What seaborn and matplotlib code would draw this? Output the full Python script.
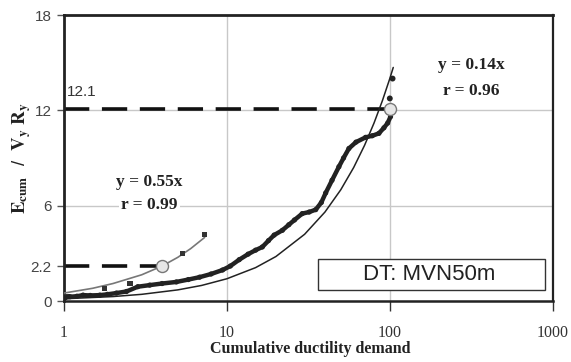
import numpy as np
import pandas as pd
import matplotlib
matplotlib.use("Agg")
import matplotlib.pyplot as plt
import seaborn as sns

# ---- data ----
# Series B: cumulative energy vs cumulative ductility demand (dense black dots)
b_x = [1.0, 1.09, 1.2, 1.31, 1.45, 1.66, 1.85, 2.1, 2.42, 2.84, 3.36, 4.0, 4.9,
       5.8, 6.8, 8.0, 9.4, 10.5, 11.9, 13.5, 15.0, 16.5, 18.0, 19.5, 21.9, 24.0,
       26.0, 29.0, 32.0, 35.1, 38.0, 40.4, 44.2, 48.7, 52.0, 56.1, 62.0, 71.0,
       78.0, 85.7, 92.0, 97.0, 101.0]
b_y = [0.2, 0.27, 0.3, 0.37, 0.35, 0.37, 0.42, 0.5, 0.6, 0.9, 1.0, 1.1, 1.2,
       1.35, 1.5, 1.7, 1.95, 2.2, 2.6, 2.95, 3.2, 3.4, 3.8, 4.15, 4.45, 4.8,
       5.1, 5.5, 5.6, 5.75, 6.2, 6.8, 7.6, 8.45, 9.0, 9.6, 10.0, 10.3,
       10.4, 10.55, 10.9, 11.2, 11.6]
b_extra_x = [100.0, 104.0]
b_extra_y = [12.75, 14.0]

# Series A: squares (short record)
a_x = [1.0, 1.05, 1.78, 2.54, 5.35, 7.3]
a_y = [0.25, 0.3, 0.8, 1.1, 3.0, 4.2]

# Fitted trend lines
fitA_x = [1.0, 1.5, 2.0, 3.0, 4.0, 5.0, 6.0, 7.3]
fitA_y = [0.5, 0.8, 1.1, 1.65, 2.2, 2.75, 3.3, 4.0]
fitB_x = [1.0, 2.0, 3.0, 5.0, 7.0, 10.0, 15.0, 20.0, 30.0, 40.0, 50.0, 60.0, 70.0, 80.0, 90.0, 100.0, 105.0]
fitB_y = [0.14, 0.28, 0.42, 0.7, 0.98, 1.4, 2.1, 2.8, 4.2, 5.6, 7.0, 8.4, 9.8, 11.2, 12.6, 14.0, 14.7]

# Reference levels
levels_y = [2.2, 12.1]
levels_x = [4.0, 100.0]
level_labels = ["2.2", "12.1"]

y_ticks = [0, 2.2, 6, 12, 18]
y_ticklabels = ["0", "2.2", "6", "12", "18"]
x_ticks = [1, 10, 100, 1000]
x_ticklabels = ["1", "10", "100", "1000"]

eqA = ["y = 0.55x", "r = 0.99"]
eqB = ["y = 0.14x", "r = 0.96"]
box_text = "DT: MVN50m"
x_label = "Cumulative ductility demand"
y_label = r"$\mathbf{E_{cum}}$  /  $\mathbf{V_y\ R_y}$"

# ---- plot ----
sns.set_theme(style="white")
plt.rcParams["mathtext.fontset"] = "stix"
plt.rcParams["font.family"] = ["Liberation Sans", "DejaVu Sans"]

fig = plt.figure(figsize=(5.71, 3.62), dpi=100)
ax = fig.add_axes([0.112, 0.1685, 0.856, 0.79])
ax.set_xscale("log")
ax.set_xlim(1, 1000)
ax.set_ylim(0, 18)

# grid lines
for gx in [10, 100]:
    ax.axvline(gx, color="#c8c8c8", lw=1.0, zorder=0)
for gy in [6, 12]:
    ax.axhline(gy, color="#c8c8c8", lw=1.0, zorder=0)

# dashed reference levels
for lx, ly in zip(levels_x, levels_y):
    ax.plot([1, lx], [ly, ly], color="#111111", lw=2.6, ls=(0, (7, 3.5)), zorder=2,
            solid_capstyle="butt", dash_capstyle="butt")

dfA = pd.DataFrame({"x": fitA_x, "y": fitA_y})
dfB = pd.DataFrame({"x": fitB_x, "y": fitB_y})
sns.lineplot(data=dfA, x="x", y="y", ax=ax, color="#777777", lw=1.2, sort=False, zorder=3)
sns.lineplot(data=dfB, x="x", y="y", ax=ax, color="#222222", lw=1.1, sort=False, zorder=3)

dA = pd.DataFrame({"x": a_x, "y": a_y})
sns.scatterplot(data=dA, x="x", y="y", ax=ax, marker="s", s=14, color="#333333",
                edgecolor="none", zorder=4)

dB = pd.DataFrame({"x": b_x, "y": b_y})
sns.lineplot(data=dB, x="x", y="y", ax=ax, color="#222222", lw=3.2, sort=False, zorder=4)
sns.scatterplot(data=dB, x="x", y="y", ax=ax, s=14, color="#222222", edgecolor="none", zorder=5)
dBe = pd.DataFrame({"x": b_extra_x, "y": b_extra_y})
sns.scatterplot(data=dBe, x="x", y="y", ax=ax, s=18, color="#222222", edgecolor="none", zorder=5)

# circles at intersections
dC = pd.DataFrame({"x": levels_x, "y": levels_y})
sns.scatterplot(data=dC, x="x", y="y", ax=ax, s=75, color="#e6e6e6", edgecolor="#777777",
                linewidth=1.0, zorder=6)

# texts
ax.text(1.29, 13.15, level_labels[1], fontsize=11, color="#333333", ha="center", va="center")
serif_bold = dict(fontfamily="Liberation Serif", fontweight="bold", fontsize=12.5,
                  color="#222222", ha="center", va="center")
ax.text(3.36, 7.5, eqA[0], **serif_bold)
ax.text(3.36, 6.05, eqA[1], bbox=dict(facecolor="white", edgecolor="none", pad=1.5), **serif_bold)
ax.text(317, 14.85, eqB[0], **serif_bold)
ax.text(317, 13.2, eqB[1], **serif_bold)

ax.text(0.748, 0.092, box_text, transform=ax.transAxes, fontsize=16, color="#222222",
        ha="center", va="center", zorder=7)
rect = plt.Rectangle((0.519, 0.04), 0.466, 0.108, transform=ax.transAxes,
                     facecolor="white", edgecolor="#333333", lw=1.0, zorder=6)
ax.add_patch(rect)

# axes styling
for side in ["top", "left", "right", "bottom"]:
    ax.spines[side].set_visible(True)
    ax.spines[side].set_color("#222222")
ax.spines["top"].set_linewidth(2.0)
ax.spines["left"].set_linewidth(2.0)
ax.spines["right"].set_linewidth(1.6)
ax.spines["bottom"].set_linewidth(1.8)

ax.set_yticks(y_ticks)
ax.set_yticklabels(y_ticklabels)
ax.set_xticks(x_ticks)
ax.set_xticklabels(x_ticklabels)
ax.minorticks_off()
ax.tick_params(axis="y", which="major", direction="out", length=5, width=1.0,
               color="#555555", labelsize=11, labelcolor="#444444", pad=4, left=True)
ax.tick_params(axis="x", which="major", direction="out", length=7, width=1.0,
               color="#333333", labelsize=11.5, labelcolor="#333333", pad=10, bottom=True)
for lab in ax.get_xticklabels():
    lab.set_fontfamily("Liberation Serif")
ax.set_xlabel("")
ax.set_ylabel("")

fig.text(310 / 571, 1 - 349 / 362, x_label, fontfamily="Liberation Serif",
         fontweight="bold", fontsize=11.5, color="#222222", ha="center", va="center")
fig.text(22 / 571, 1 - 158 / 362, y_label, fontsize=13.5, color="#222222",
         ha="center", va="center", rotation=90)

fig.savefig("out.png", dpi=100)
